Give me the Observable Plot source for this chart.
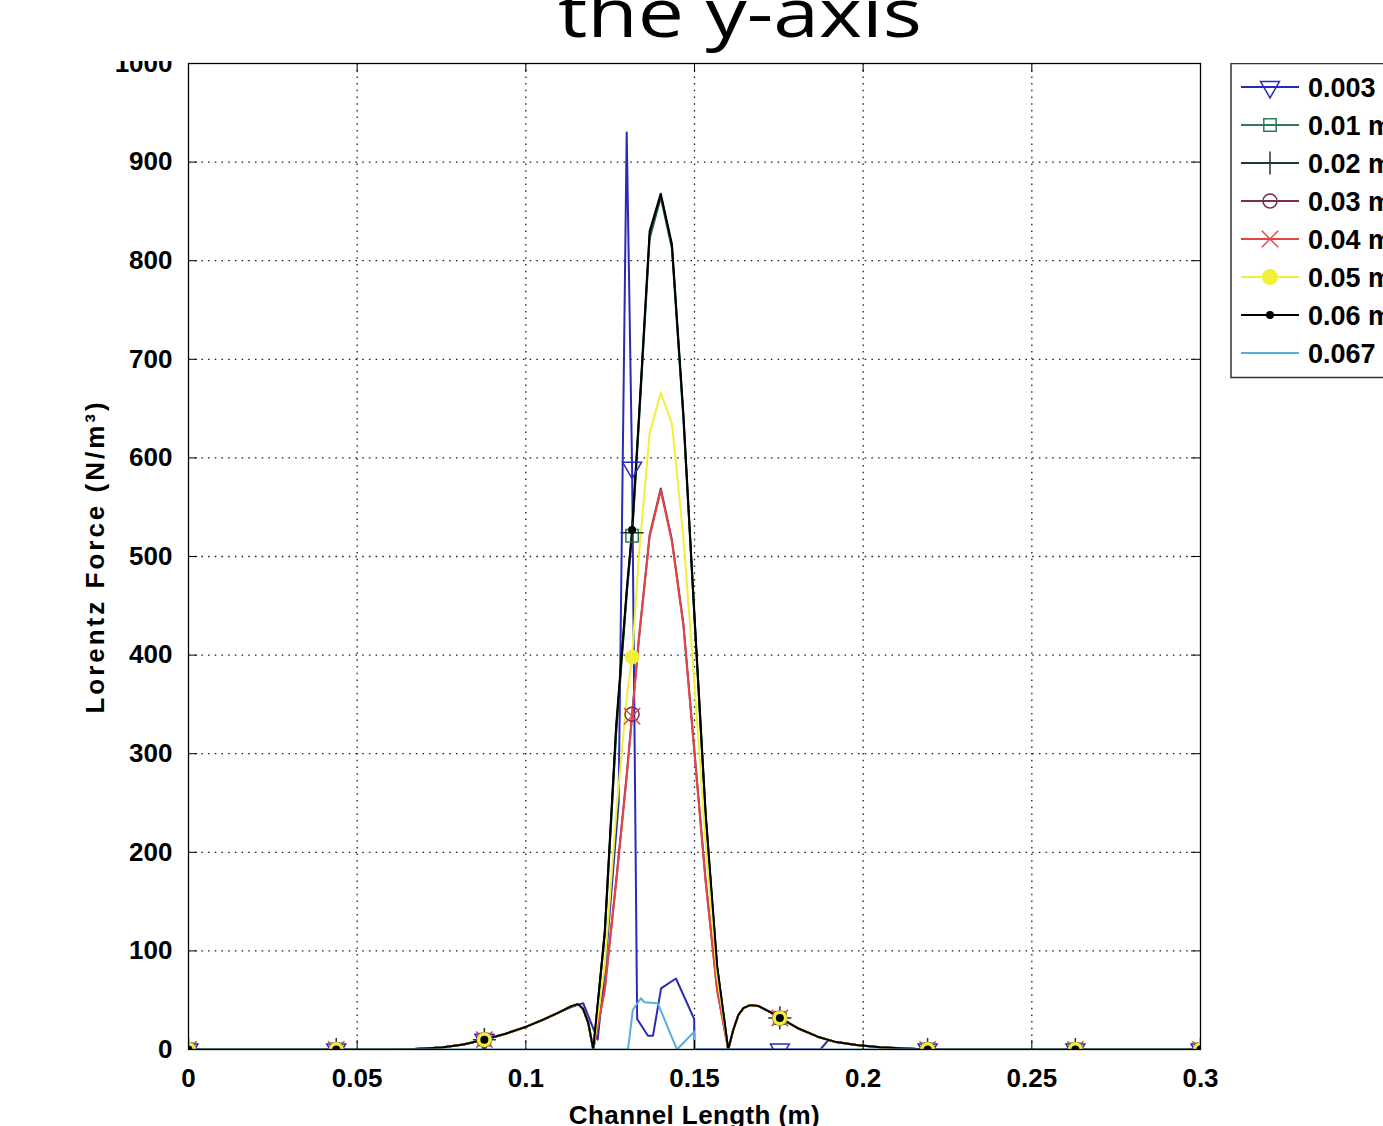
<!DOCTYPE html>
<html>
<head>
<meta charset="utf-8">
<script src="https://cdn.jsdelivr.net/npm/d3@7"></script>
<script src="https://cdn.jsdelivr.net/npm/@observablehq/plot@0.6"></script>
<style>
  html, body { margin: 0; padding: 0; background: #fff; width: 1383px; height: 1126px; overflow: hidden; position: relative; }
  #chart { position: absolute; left: 0; top: 0; }
  #title { position: absolute; left: 0; top: 0; z-index: 2; }
  #legend { position: absolute; left: 1230px; top: 63px; z-index: 3; }
  #chart g[aria-label="y-axis label"] text { letter-spacing: 3px; }
  #chart g[aria-label="x-axis label"] text { letter-spacing: 0.4px; }
</style>
</head>
<body>
<div id="chart"></div>
<div id="title"></div>
<div id="legend"></div>
<script>
// ---------------- data ----------------
const titleText = "the y-axis";
const xLabel = "Channel Length (m)";
const yLabel = "Lorentz Force (N/m³)";
const xTicks = [0, 0.05, 0.1, 0.15, 0.2, 0.25, 0.3];
const yTicks = [0, 100, 200, 300, 400, 500, 600, 700, 800, 900, 1000];
const markerX = [0, 0.0438, 0.0877, 0.1315, 0.1753, 0.2191, 0.2629, 0.3];

// shared x grid for the main series
const mainX = [0, 0.0438, 0.06, 0.067, 0.075, 0.0815, 0.0877, 0.094, 0.1, 0.105,
  0.11, 0.1135, 0.1155, 0.117, 0.1185, 0.12, 0.1234, 0.1268, 0.13, 0.1315,
  0.1335, 0.1367, 0.14, 0.1433, 0.1467, 0.15, 0.1533, 0.1567, 0.16, 0.1615,
  0.163, 0.1645, 0.1665, 0.169, 0.1725, 0.1753, 0.181, 0.1865, 0.192, 0.198,
  0.205, 0.2125, 0.2191, 0.2629, 0.3];

const y010 = [0, 0, 0, 0.5, 2, 5, 10, 16, 23, 30, 38, 44, 46, 41, 27, 0,
  116, 322, 465, 521, 634, 822, 864, 812, 640, 436, 236, 83,
  0, 20, 35, 42, 45, 44, 38, 32, 21, 13, 7.5, 4.5, 2.3, 1, 0, 0, 0];
const y020 = [0, 0, 0, 0.5, 2, 5, 10, 16, 23, 30, 38, 44, 46, 41, 27, 0,
  118, 325, 468, 524, 637, 826, 866, 815, 642, 438, 238, 84,
  0, 20, 35, 42, 45, 44, 38, 32, 21, 13, 7.5, 4.5, 2.3, 1, 0, 0, 0];
const y030 = [0, 0, 0, 0.5, 2, 5, 10, 16, 23, 30, 38, 44, 46, 41, 27, 0,
  62, 172, 282, 340, 417, 522, 569, 517, 432, 302, 172, 61,
  0, 20, 35, 42, 45, 44, 38, 32, 21, 13, 7.5, 4.5, 2.3, 1, 0, 0, 0];
const y040 = [0, 0, 0, 0.5, 2, 5, 10, 16, 23, 30, 38, 44, 46, 41, 27, 0,
  60, 170, 280, 338, 415, 520, 567, 515, 430, 300, 170, 60,
  0, 20, 35, 42, 45, 44, 38, 32, 21, 13, 7.5, 4.5, 2.3, 1, 0, 0, 0];
const y050 = [0, 0, 0, 0.5, 2, 5, 10, 16, 23, 30, 38, 44, 46, 41, 27, 0,
  85, 240, 360, 398, 500, 625, 666, 635, 520, 370, 210, 75,
  0, 20, 35, 42, 45, 44, 38, 32, 21, 13, 7.5, 4.5, 2.3, 1, 0, 0, 0];
const y060 = [0, 0, 0, 0.5, 2, 5, 10, 16, 23, 30, 38, 44, 46, 41, 27, 0,
  120, 330, 470, 527, 640, 830, 868, 817, 645, 440, 240, 85,
  0, 20, 35, 42, 45, 44, 38, 32, 21, 13, 7.5, 4.5, 2.3, 1, 0, 0, 0];

// 0.003 m series (own x grid)
const x003 = [0, 0.0438, 0.06, 0.067, 0.075, 0.0815, 0.0877, 0.094, 0.1, 0.105,
  0.11, 0.1135, 0.117, 0.1213, 0.1237, 0.1275, 0.1299, 0.1315, 0.133, 0.1362,
  0.1377, 0.1401, 0.1445, 0.1499, 0.15, 0.1753, 0.1873, 0.1897, 0.192, 0.198,
  0.205, 0.2125, 0.2191, 0.2629, 0.3];
const y003 = [0, 0, 0, 0.5, 2, 5, 10, 16, 23, 30,
  38, 43, 47, 10, 90, 250, 930, 590, 31, 14,
  14, 62, 72, 31, 0, 0, 0, 9.5, 7.5, 4.5,
  2.3, 1, 0, 0, 0];

// 0.067 m series (own x grid)
const x067 = [0, 0.1303, 0.1317, 0.1341, 0.1351, 0.1391, 0.1448, 0.1499, 0.15, 0.3];
const y067 = [0, 0, 40, 52, 48, 47, 0, 18, 0, 0];

const seriesNames = ["0.003 m", "0.01 m", "0.02 m", "0.03 m", "0.04 m", "0.05 m", "0.06 m", "0.067 m"];
const seriesColors = ["#2a2ab8", "#2f7a58", "#1d3a2b", "#7a2c50", "#e04848", "#f0f03a", "#000000", "#5aaedb"];
const seriesSymbols = ["triangle-down", "square", "plus", "circle", "times", "dot-yellow", "dot-black", null];

// ---------------- build ----------------
const seriesX = [x003, mainX, mainX, mainX, mainX, mainX, mainX, x067];
const seriesY = [y003, y010, y020, y030, y040, y050, y060, y067];
const series = seriesNames.map((name, i) => ({
  name, color: seriesColors[i], symbol: seriesSymbols[i],
  points: seriesX[i].map((x, j) => ({x, y: seriesY[i][j]}))
}));
const isMarker = p => markerX.some(m => Math.abs(m - p.x) < 1e-9);

const W = 1383, H = 1126;
const mL = 188, mR = 183, mT = 63, mB = 77;
const frameW = W - mL - mR, frameH = H - mT - mB;

function markerMark(s) {
  const pts = s.points.filter(isMarker);
  const base = {x: "x", y: "y", clip: true};
  switch (s.symbol) {
    case "triangle-down": return Plot.dot(pts, {...base, symbol: "triangle", rotate: 180, r: 7, stroke: s.color, strokeWidth: 1.5, fill: "none"});
    case "square": return Plot.dot(pts, {...base, symbol: "square", r: 7, stroke: s.color, strokeWidth: 1.5, fill: "none"});
    case "plus": return Plot.dot(pts, {...base, symbol: "plus", r: 7.5, stroke: s.color, strokeWidth: 1.5});
    case "circle": return Plot.dot(pts, {...base, symbol: "circle", r: 7, stroke: s.color, strokeWidth: 1.5, fill: "none"});
    case "times": return Plot.dot(pts, {...base, symbol: "times", r: 7.5, stroke: s.color, strokeWidth: 1.5});
    case "dot-yellow": return Plot.dot(pts, {...base, symbol: "circle", r: 7, fill: s.color, stroke: s.color, strokeWidth: 1});
    case "dot-black": return Plot.dot(pts, {...base, symbol: "circle", r: 4, fill: s.color, stroke: "none"});
    default: return null;
  }
}

const marks = [
  Plot.gridX(xTicks.slice(1, -1), {stroke: "#000", strokeOpacity: 0.9, strokeWidth: 1.3, strokeDasharray: "1.5,5.2"}),
  Plot.gridY(yTicks.slice(1, -1), {stroke: "#000", strokeOpacity: 0.9, strokeWidth: 1.3, strokeDasharray: "1.5,5.2"}),
];
series.forEach(s => {
  marks.push(Plot.line(s.points, {x: "x", y: "y", stroke: s.color, strokeWidth: 2, clip: true}));
});
series.forEach(s => {
  const m = markerMark(s);
  if (m) marks.push(m);
});
marks.push(
  // inward tick marks on all four sides
  Plot.ruleX(xTicks, {stroke: "#000", insetTop: frameH - 9}),
  Plot.ruleX(xTicks, {stroke: "#000", insetBottom: frameH - 9}),
  Plot.ruleY(yTicks, {stroke: "#000", insetRight: frameW - 9}),
  Plot.ruleY(yTicks, {stroke: "#000", insetLeft: frameW - 9}),
  Plot.frame({stroke: "#000", strokeWidth: 1.3}),
  Plot.axisX(xTicks, {tickSize: 0, tickPadding: 19, tickFormat: d => String(+d.toFixed(2)),
    label: xLabel, labelAnchor: "center", labelOffset: 74, labelArrow: "none"}),
  Plot.axisY(yTicks, {tickSize: 0, tickPadding: 16, tickFormat: d => String(d),
    label: yLabel, labelAnchor: "center", labelOffset: 103, labelArrow: "none"})
);

const chart = Plot.plot({
  width: W, height: H,
  marginLeft: mL, marginRight: mR, marginTop: mT, marginBottom: mB,
  x: {domain: [0, 0.3]},
  y: {domain: [0, 1000]},
  style: {fontFamily: "'Liberation Sans', Arial, sans-serif", fontWeight: "bold", fontSize: "26px", color: "#000", background: "#fff", overflow: "visible"},
  marks
});
document.getElementById("chart").appendChild(chart);

// ---------------- title (partly cut off at top, as in the reference) ----------------
const tsvg = d3.select("#title").append("svg").attr("width", W).attr("height", 61);
tsvg.append("rect").attr("width", W).attr("height", 61).attr("fill", "#fff");
tsvg.append("text").attr("x", 740).attr("y", 37).attr("text-anchor", "middle")
  .attr("font-family", "'Open Sans', sans-serif").attr("font-size", 68)
  .attr("textLength", 364).attr("lengthAdjust", "spacingAndGlyphs")
  .attr("fill", "#000").text(titleText);

// ---------------- legend ----------------
const lsvg = d3.select("#legend").append("svg").attr("width", W - 1230).attr("height", 318);
lsvg.append("rect").attr("x", 1).attr("y", 0.5).attr("width", 300).attr("height", 314)
  .attr("fill", "#fff").attr("stroke", "#333").attr("stroke-width", 1.5);
series.forEach((s, i) => {
  const cy = 24 + i * 38;
  const g = lsvg.append("g");
  g.append("line").attr("x1", 11).attr("x2", 69).attr("y1", cy).attr("y2", cy)
    .attr("stroke", s.color).attr("stroke-width", 2);
  const mx = 40;
  let sym = null, attrs = {};
  switch (s.symbol) {
    case "triangle-down": sym = d3.symbol(d3.symbolTriangle, 154)(); attrs = {fill: "none", stroke: s.color, rot: 180}; break;
    case "square": sym = d3.symbol(d3.symbolSquare, 154)(); attrs = {fill: "none", stroke: s.color}; break;
    case "plus": sym = d3.symbol(d3.symbolPlus, 177)(); attrs = {fill: "none", stroke: s.color}; break;
    case "circle": sym = d3.symbol(d3.symbolCircle, 154)(); attrs = {fill: "none", stroke: s.color}; break;
    case "times": sym = d3.symbol(d3.symbolTimes, 177)(); attrs = {fill: "none", stroke: s.color}; break;
    case "dot-yellow": sym = d3.symbol(d3.symbolCircle, 170)(); attrs = {fill: s.color, stroke: s.color}; break;
    case "dot-black": sym = d3.symbol(d3.symbolCircle, 50)(); attrs = {fill: s.color, stroke: "none"}; break;
  }
  if (sym) {
    g.append("path").attr("d", sym)
      .attr("transform", `translate(${mx},${cy})` + (attrs.rot ? ` rotate(${attrs.rot})` : ""))
      .attr("fill", attrs.fill).attr("stroke", attrs.stroke).attr("stroke-width", 1.5);
  }
  g.append("text").attr("x", 78).attr("y", cy + 9.5)
    .attr("font-family", "'Liberation Sans', Arial, sans-serif").attr("font-weight", "bold")
    .attr("font-size", 27).attr("fill", "#000").text(s.name);
});
</script>
</body>
</html>
